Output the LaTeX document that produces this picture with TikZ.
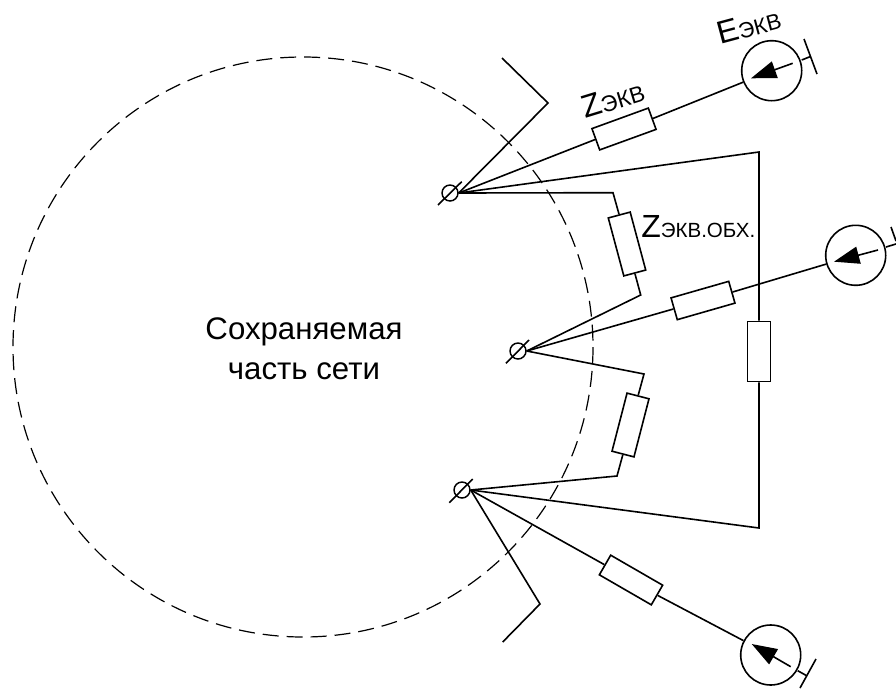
\documentclass[tikz,border=0pt]{standalone}
\usepackage{fontspec}
\setmainfont{Liberation Sans}
\usetikzlibrary{arrows.meta}
\newcommand{\lblbig}[2]{{\fontsize{#1}{#1}\selectfont #2}}
\tikzset{
  wire/.style={line width=1.2pt},
  res/.style={draw,line width=1.2pt,fill=white,rectangle,minimum width=45pt,minimum height=17pt,inner sep=0pt},
  bus/.style={draw,line width=1.1pt,circle,minimum size=12pt,inner sep=0pt},
  src/.style={draw,line width=1.2pt,circle,minimum size=45pt,inner sep=0pt},
  emf/.style={line width=1.2pt,-{Triangle[length=19pt,width=13pt]}},
  lbl/.style={inner sep=0pt}
}
\begin{document}
\begin{tikzpicture}[x=0.75pt,y=-0.75pt]
  \useasboundingbox (0,0) rectangle (896,689);
  \draw[line width=0.9pt,dash pattern=on 12pt off 6pt] (303,347) circle [radius=290];
  \node[align=center,font=\fontsize{23.4}{30}\selectfont] (net) at (304,349) {Сохраняемая\\часть сети};

  \node[bus] (b1) at (450,193) {};
  \node[bus] (b2) at (518,351) {};
  \node[bus] (b3) at (462,490) {};

  \node[res,rotate=20] (r1) at (624,129) {};
  \node[res,rotate=-75] (r2) at (627,244) {};
  \node[res,rotate=16] (r3) at (703,300.5) {};
  \node[res,rotate=-90] (r4) at (759,351.5) {};
  \node[res,rotate=-104.5] (r5) at (630.5,425) {};
  \node[res,rotate=-30] (r6) at (631,580) {};

  \node[src] (e1) at (771.7,70.7) {};
  \node[src] (e2) at (855.7,255.3) {};
  \node[src] (e3) at (770.7,655) {};

  \coordinate (s1) at (438,205);
  \coordinate (s2) at (461.7,181.7);
  \coordinate (s3) at (506,363.3);
  \coordinate (s4) at (529,340);
  \coordinate (s5) at (449.3,502.7);
  \coordinate (s6) at (472.7,479);

  \coordinate (c1) at (548,103);
  \coordinate (c2) at (502,58);
  \coordinate (c3) at (540,604);
  \coordinate (c4) at (502.7,642);
  \coordinate (k1) at (759,152);
  \coordinate (k2) at (759,528);
  \coordinate (k3) at (613,192.7);
  \coordinate (k4) at (640.7,295);
  \coordinate (k5) at (644,374);
  \coordinate (k6) at (617,476);

  \coordinate (t1) at (801.7,60);
  \coordinate (t2) at (810,56.7);
  \coordinate (t3) at (804,39);
  \coordinate (t4) at (817,74);
  \coordinate (t5) at (886,247);
  \coordinate (t6) at (896,244);
  \coordinate (t7) at (891,227);
  \coordinate (t8) at (896,241);
  \coordinate (t9) at (797.7,670.7);
  \coordinate (t10) at (806.7,675.7);
  \coordinate (t11) at (816,659);
  \coordinate (t12) at (800,688);

  \coordinate (a1) at (792.7,63.3);
  \coordinate (a2) at (751,78.3);
  \coordinate (a3) at (878,250);
  \coordinate (a4) at (834,261.7);
  \coordinate (a5) at (790.7,666.7);
  \coordinate (a6) at (751.7,644);

  \begin{scope}[wire]
    \draw (s1) to (s2);
    \draw (s3) to (s4);
    \draw (s5) to (s6);

    \draw (b1.east) -- (c1) -- (c2);
    \draw (b1.east) -- (r1.west);
    \draw (r1.east) -- (e1);
    \draw (b1.east) -- (k1) -- (r4.west);
    \draw (r4.east) -- (k2) -- (b3.east);
    \draw (b1.east) -- (k3) -- (r2.west);
    \draw (r2.east) -- (k4) -- (b2.east);
    \draw (b2.east) -- (r3.west);
    \draw (r3.east) -- (e2);
    \draw (b2.east) -- (k5) -- (r5.west);
    \draw (r5.east) -- (k6) -- (b3.east);
    \draw (b3.east) -- (r6.west);
    \draw (r6.east) -- (e3);
    \draw (b3.east) -- (c3) -- (c4);

    \draw (t1) to (t2);
    \draw (t3) to (t4);
    \draw (t5) to (t6);
    \draw (t7) to (t8);
    \draw (t9) to (t10);
    \draw (t11) to (t12);
  \end{scope}

  \draw[emf] (a1) -- (a2);
  \draw[emf] (a3) -- (a4);
  \draw[emf] (a5) -- (a6);

  \node[lbl,anchor=base west,rotate=17] (l1) at (585,119) {\lblbig{24}{Z}\lblbig{17}{ЭКВ}};
  \node[lbl,anchor=base west,rotate=15] (l2) at (720,45) {\lblbig{24}{E}\lblbig{16.5}{ЭКВ}};
  \node[lbl,anchor=base west] (l3) at (641,237) {\lblbig{24}{Z}\lblbig{15.4}{ЭКВ.ОБХ.}};
\end{tikzpicture}
\end{document}
